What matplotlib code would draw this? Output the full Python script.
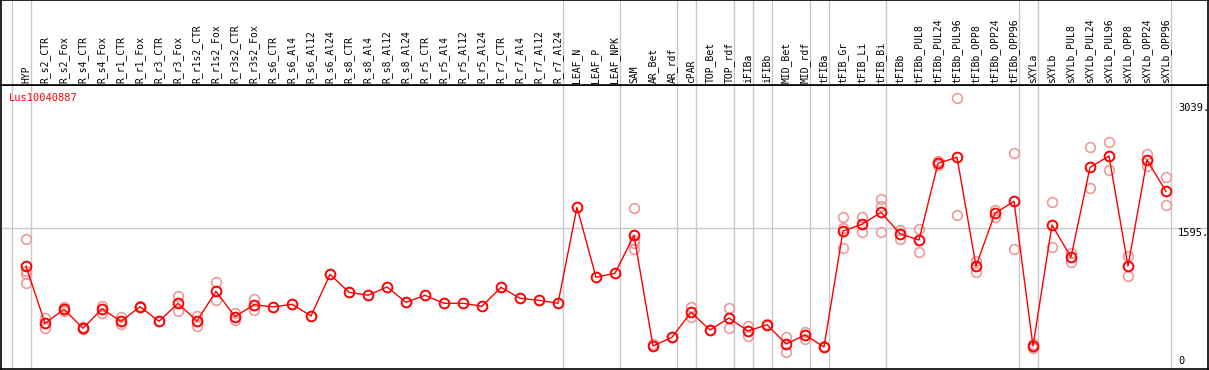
import numpy as np
import matplotlib
matplotlib.use("Agg")
import matplotlib.pyplot as plt

gene = "Lus10040887"

samples = [
    "HYP",
    "R_s2_CTR", "R_s2_Fox", "R_s4_CTR", "R_s4_Fox",
    "R_r1_CTR", "R_r1_Fox", "R_r3_CTR", "R_r3_Fox",
    "R_r1s2_CTR", "R_r1s2_Fox", "R_r3s2_CTR", "R_r3s2_Fox",
    "R_s6_CTR", "R_s6_Al4", "R_s6_Al12", "R_s6_Al24",
    "R_s8_CTR", "R_s8_Al4", "R_s8_Al12", "R_s8_Al24",
    "R_r5_CTR", "R_r5_Al4", "R_r5_Al12", "R_r5_Al24",
    "R_r7_CTR", "R_r7_Al4", "R_r7_Al12", "R_r7_Al24",
    "LEAF_N", "LEAF_P", "LEAF_NPK",
    "SAM", "AR_Bet", "AR_rdf", "cPAR", "TOP_Bet", "TOP_rdf",
    "iFIBa", "iFIBb", "MID_Bet", "MID_rdf", "tFIBa",
    "tFIB_Gr", "tFIB_Li", "tFIB_Bi",
    "tFIBb", "tFIBb_PUL8", "tFIBb_PUL24", "tFIBb_PUL96",
    "tFIBb_OPP8", "tFIBb_OPP24", "tFIBb_OPP96",
    "sXYLa", "sXYLb", "sXYLb_PUL8", "sXYLb_PUL24", "sXYLb_PUL96",
    "sXYLb_OPP8", "sXYLb_OPP24", "sXYLb_OPP96",
]

# moyenne par échantillon
means = [
    1153,
    494, 656, 437, 660,
    517, 686, 517, 725,
    521, 864, 571, 709,
    683, 714, 579, 1060,
    852, 818, 914, 737,
    818, 725, 725, 691,
    910, 783, 760, 725,
    1834, 1026, 1072,
    1511, 232, 333, 621, 417, 555,
    405, 478, 255, 359, 221,
    1560, 1638, 1776,
    1529, 1456, 2342, 2412,
    1156, 1765, 1903,
    232, 1630, 1257, 2296, 2427,
    1156, 2380, 2018,
]

# réplicats (vides quand ils se confondent avec la moyenne)
replicates = [
    [1468, 1098, 1064, 960],
    [552, 443], [686, 640], [451, 428], [698, 610],
    [564, 486], [690, 680], [517], [806, 640],
    [582, 467], [968, 760], [610, 532], [775, 648],
    [], [], [], [],
    [], [], [], [],
    [], [], [], [],
    [], [], [], [],
    [], [], [],
    [1823, 1457, 1420, 1349], [252], [333], [683, 564], [417], [671, 437],
    [467, 351], [482], [336, 166], [397, 313], [230],
    [1719, 1598, 1361], [1726, 1545], [1930, 1849, 1545],
    [1572, 1468], [1583, 1321], [2369, 2323], [3093, 1745],
    [1214, 1090], [1803, 1726], [2458, 1349],
    [252, 205], [1892, 1372], [1303, 1206], [2527, 2054], [2588, 2265],
    [1272, 1044], [2450, 2311], [2181, 1857],
]

# derniers index de chaque groupe (séparateurs verticaux)
group_ends = [-1, 0, 28, 31, 34, 35, 37, 38, 39, 41, 42, 45, 52, 53, 60]

y_labels = [3039, 1595]

W, H = 1209, 370
fig = plt.figure(figsize=(W / 100, H / 100), dpi=100)

x = np.arange(len(samples))
xlim = (-25 / 19, -25 / 19 + 1207 / 19)
ylim = (1595 - 141 * 11.552, 1595 + 143 * 11.552)

ax = fig.add_axes([1 / W, (H - 369) / H, 1207 / W, 284 / H])
axh = fig.add_axes([1 / W, (H - 85) / H, 1207 / W, 85 / H], sharex=ax)

for a in (ax, axh):
    a.set_xticks([])
    a.set_yticks([])
    for s in a.spines.values():
        s.set_color("black")
        s.set_linewidth(1.2)
    for g in group_ends:
        a.axvline(g + 0.24, color="#c8c8c8", linewidth=1, zorder=0)

ax.set_xlim(*xlim)
ax.set_ylim(*ylim)
axh.set_ylim(0, 1)

ax.axhline(1595, color="#c8c8c8", linewidth=1, zorder=0)

# réplicats
for i, reps in enumerate(replicates):
    if reps:
        ax.plot(
            [i] * len(reps), reps,
            linestyle="none",
            marker="o",
            markersize=7,
            markerfacecolor="none",
            markeredgecolor="#ee9a9a",
            markeredgewidth=1.2,
            zorder=2,
        )

# moyennes
ax.plot(
    x, means,
    color="red",
    linewidth=1,
    marker="o",
    markersize=7,
    markerfacecolor="none",
    markeredgecolor="red",
    markeredgewidth=1.4,
    zorder=3,
)

# noms des échantillons
for i, name in enumerate(samples):
    axh.text(
        i, 0.025, name,
        rotation=90,
        ha="center",
        va="bottom",
        fontsize=7,
        family="DejaVu Sans Mono",
        color="black",
    )

ax.text(
    (9 - 26) / 19, 0.955, gene,
    transform=ax.get_xaxis_transform(),
    ha="left", va="center",
    fontsize=7.5, family="DejaVu Sans Mono", color="red",
)

x_lab = (1178 - 26) / 19
for v in y_labels:
    ax.text(x_lab, v, f"{v}.", ha="left", va="top",
            fontsize=7.5, family="DejaVu Sans Mono", color="black")
ax.text(x_lab, 0, "0", ha="left", va="bottom",
        fontsize=7.5, family="DejaVu Sans Mono", color="black")

plt.savefig("out.png", dpi=100)
